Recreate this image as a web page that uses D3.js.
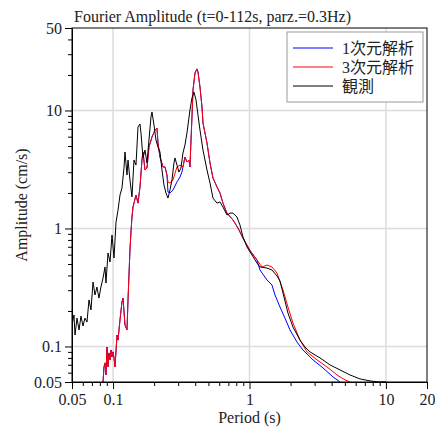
<!DOCTYPE html>
<html>
<head>
<meta charset="utf-8">
<script src="https://cdn.jsdelivr.net/npm/d3@7"></script>
<style>
  body { margin: 0; background: #fff; }
  svg text { font-family: "Liberation Serif", "Times New Roman", "Noto Sans CJK JP", serif; fill: #222; }
</style>
</head>
<body>
<div id="chart"></div>
<script>
// observed (観測)
const periodObs = [0.0500,0.0517,0.0526,0.0544,0.0563,0.0582,0.0602,0.0622,0.0644,0.0666,
  0.0689,0.0713,0.0737,0.0762,0.0788,0.0815,0.0844,0.0873,0.0887,0.0918,
  0.0950,0.0982,0.1016,0.1051,0.1087,0.1124,0.1162,0.1202,0.1223,0.1265,
  0.1287,0.1330,0.1376,0.1423,0.1472,0.1523,0.1575,0.1602,0.1657,0.1714,
  0.1772,0.1833,0.1896,0.1929,0.1995,0.2063,0.2134,0.2207,0.2283,0.2361,
  0.2442,0.2526,0.2613,0.2703,0.2795,0.2843,0.2940,0.3041,0.3145,0.3253,
  0.3365,0.3480,0.3662,0.3788,0.3918,0.4053,0.4192,0.4336,0.4561,0.4880,
  0.5133,0.5399,0.5776,0.6075,0.6391,0.6838,0.7193,0.7566,0.8095,0.8515,
  0.8956,0.9583,1.043,1.134,1.193,1.343,1.461,1.590,1.673,1.760,
  1.914,2.083,2.344,2.550,2.775,3.285,3.889,4.604,5.450,6.452,
  7.638,8.741,10.0];
const ampObs = [0.152,0.185,0.125,0.174,0.138,0.181,0.149,0.174,0.161,0.248,
  0.204,0.352,0.273,0.319,0.257,0.319,0.380,0.472,0.345,0.620,
  0.520,0.880,0.562,1.13,1.43,1.92,2.20,3.25,4.45,2.84,
  3.80,2.58,1.85,3.80,3.45,7.24,7.68,6.44,3.96,4.62,
  3.59,5.62,8.81,9.70,7.53,5.62,4.90,4.45,3.13,2.34,
  2.00,1.81,2.12,2.58,3.59,3.96,3.45,3.01,3.25,4.36,
  5.10,6.44,10.1,12.8,14.3,12.3,9.15,6.83,4.62,3.13,
  2.43,1.81,1.64,1.68,1.52,1.30,1.35,1.35,1.25,1.07,
  0.847,0.697,0.596,0.510,0.472,0.462,0.445,0.396,0.359,0.284,
  0.192,0.146,0.1134,0.0990,0.0900,0.0800,0.0698,0.0633,0.0574,0.0531,
  0.0511,0.0501,0.0501];

// 3D analysis (3次元解析)
const period3d = [0.0844,0.0858,0.0873,0.0887,0.0903,0.0918,0.0933,0.0950,0.0966,0.0982,
  0.0999,0.1016,0.1033,0.1069,0.1087,0.1124,0.1162,0.1183,0.1223,0.1265,
  0.1287,0.1308,0.1330,0.1353,0.1376,0.1400,0.1472,0.1523,0.1575,0.1629,
  0.1657,0.1714,0.1772,0.1833,0.1929,0.2030,0.2099,0.2134,0.2207,0.2322,
  0.2402,0.2484,0.2526,0.2613,0.2749,0.2940,0.3094,0.3253,0.3365,0.3480,
  0.3601,0.3662,0.3726,0.3788,0.3853,0.3985,0.4122,0.4192,0.4336,0.4485,
  0.4561,0.4880,0.5133,0.5399,0.5776,0.6075,0.6391,0.6838,0.7566,0.8233,
  0.8956,1.003,1.134,1.235,1.343,1.461,1.590,1.760,1.914,2.083,
  2.344,2.638,3.123,3.698,4.377,5.010,5.450];
const amp3d = [0.050,0.0671,0.0726,0.0574,0.099,0.0671,0.0882,0.077,0.0933,0.0816,
  0.090,0.080,0.0671,0.125,0.1134,0.168,0.238,0.257,0.152,0.138,
  0.248,0.403,0.657,0.933,1.25,1.52,1.92,1.64,2.25,3.80,
  4.45,3.13,3.25,4.90,5.96,6.83,7.10,5.30,4.03,3.32,
  3.32,2.84,2.48,2.43,2.58,3.32,3.45,3.32,4.03,3.66,
  3.80,3.32,5.62,8.81,14.9,20.8,22.5,21.2,15.8,10.7,
  7.83,5.30,3.59,2.68,2.25,2.00,1.64,1.35,1.18,1.01,
  0.830,0.657,0.541,0.472,0.490,0.472,0.419,0.301,0.216,0.158,
  0.1134,0.090,0.077,0.0671,0.0574,0.0521,0.0501];

// 1D analysis (1次元解析)
const period1d = [0.0844,0.0858,0.0873,0.0887,0.0903,0.0918,0.0933,0.0950,0.0966,0.0982,
  0.0999,0.1016,0.1033,0.1069,0.1087,0.1124,0.1162,0.1183,0.1223,0.1265,
  0.1287,0.1308,0.1330,0.1353,0.1376,0.1400,0.1472,0.1523,0.1575,0.1629,
  0.1657,0.1714,0.1772,0.1833,0.1929,0.2030,0.2099,0.2134,0.2207,0.2322,
  0.2402,0.2484,0.2526,0.2613,0.2749,0.2940,0.3094,0.3200,0.3365,0.3480,
  0.3601,0.3662,0.3726,0.3788,0.3853,0.3985,0.4122,0.4192,0.4336,0.4485,
  0.4561,0.4880,0.5133,0.5399,0.5776,0.6075,0.6391,0.6838,0.7566,0.8233,
  0.8956,1.003,1.134,1.193,1.343,1.461,1.538,1.673,1.820,1.980,
  2.228,2.466,2.919,3.456,4.092,4.604];
const amp1d = [0.050,0.0671,0.0726,0.0574,0.099,0.0671,0.0882,0.077,0.0933,0.0816,
  0.090,0.080,0.0671,0.125,0.1134,0.168,0.238,0.257,0.152,0.138,
  0.248,0.403,0.657,0.933,1.25,1.52,1.92,1.64,2.25,3.80,
  4.45,3.13,3.25,4.90,5.96,6.83,7.10,5.30,4.03,3.32,
  3.32,2.84,2.04,2.00,2.12,2.48,2.73,3.01,4.03,3.66,
  3.80,3.32,5.62,8.81,14.9,20.8,22.5,21.2,15.8,10.7,
  7.83,5.30,3.59,2.68,2.25,2.00,1.64,1.35,1.18,1.01,
  0.830,0.657,0.541,0.445,0.366,0.332,0.273,0.216,0.174,0.138,
  0.1091,0.0933,0.077,0.0658,0.0552,0.0501];

const seriesNames = ["1次元解析", "3次元解析", "観測"];
const seriesColors = ["#0000ff", "#ff0000", "#000000"];
const xMajor = [0.05, 0.1, 1, 10, 20];
const yMajor = [0.05, 0.1, 1, 10, 50];
const gridValues = [0.1, 1, 10];

const width = 435, height = 428;
const margin = {left: 72, right: 8, top: 28, bottom: 46};

const svg = d3.select("#chart").append("svg")
  .attr("width", width)
  .attr("height", height);

const x = d3.scaleLog().domain([0.05, 20]).range([margin.left, width - margin.right]);
const y = d3.scaleLog().domain([0.05, 50]).range([height - margin.bottom, margin.top]);

// minor tick values 2..9 per decade
const minorX = [];
[0.01, 0.1, 1].forEach(d => { for (let k = 2; k <= 9; k++) { const v = +(d * k).toPrecision(3); if (v > 0.05 && v < 10) minorX.push(v); } });
const minorY = [];
[0.01, 0.1, 1, 10].forEach(d => { for (let k = 2; k <= 9; k++) { const v = +(d * k).toPrecision(3); if (v > 0.05 && v < 50) minorY.push(v); } });

// grid
const grid = svg.append("g").attr("stroke", "#dcdcdc").attr("stroke-width", 1.5);
gridValues.forEach(v => {
  grid.append("line").attr("x1", x(v)).attr("x2", x(v)).attr("y1", y(50)).attr("y2", y(0.05));
  grid.append("line").attr("x1", x(0.05)).attr("x2", x(20)).attr("y1", y(v)).attr("y2", y(v));
});

// clip
svg.append("clipPath").attr("id", "plot-clip")
  .append("rect")
  .attr("x", x(0.05)).attr("y", y(50))
  .attr("width", x(20) - x(0.05)).attr("height", y(0.05) - y(50));

const line = d3.line().x(d => x(d[0])).y(d => y(d[1]));
const lines = [
  d3.zip(period1d, amp1d),
  d3.zip(period3d, amp3d),
  d3.zip(periodObs, ampObs)
];
svg.append("g").attr("clip-path", "url(#plot-clip)")
  .selectAll("path")
  .data(lines)
  .enter().append("path")
  .attr("d", line)
  .attr("fill", "none")
  .attr("stroke", (d, i) => seriesColors[i])
  .attr("stroke-width", 1);

// axes
const bottom = height - margin.bottom;
svg.append("g")
  .attr("transform", "translate(0," + bottom + ")")
  .call(d3.axisBottom(x).tickValues(xMajor).tickFormat(d => d).tickSize(7).tickPadding(5).tickSizeOuter(0))
  .call(g => g.selectAll("text").attr("font-size", 16).attr("font-family", null));
svg.append("g")
  .attr("transform", "translate(0," + bottom + ")")
  .call(d3.axisBottom(x).tickValues(minorX).tickFormat("").tickSize(4).tickSizeOuter(0))
  .call(g => g.select(".domain").remove());
svg.append("g")
  .attr("transform", "translate(" + margin.left + ",0)")
  .call(d3.axisLeft(y).tickValues(yMajor).tickFormat(d => d).tickSize(7).tickPadding(3).tickSizeOuter(0))
  .call(g => g.selectAll("text").attr("font-size", 16).attr("font-family", null));
svg.append("g")
  .attr("transform", "translate(" + margin.left + ",0)")
  .call(d3.axisLeft(y).tickValues(minorY).tickFormat("").tickSize(4).tickSizeOuter(0))
  .call(g => g.select(".domain").remove());

// frame
svg.append("rect")
  .attr("x", x(0.05)).attr("y", y(50))
  .attr("width", x(20) - x(0.05)).attr("height", y(0.05) - y(50))
  .attr("fill", "none").attr("stroke", "#000").attr("stroke-width", 1);

// title and labels
svg.append("text")
  .attr("x", 74).attr("y", 22)
  .attr("font-size", 16)
  .text("Fourier Amplitude (t=0-112s, parz.=0.3Hz)");
svg.append("text")
  .attr("x", x(1)).attr("y", 423)
  .attr("text-anchor", "middle")
  .attr("font-size", 16)
  .text("Period (s)");
svg.append("text")
  .attr("transform", "translate(27," + (y(50) + y(0.05)) / 2 + ") rotate(-90)")
  .attr("text-anchor", "middle")
  .attr("font-size", 16)
  .text("Amplitude (cm/s)");

// legend
const legend = svg.append("g").attr("transform", "translate(287,32)");
legend.append("rect")
  .attr("width", 136).attr("height", 70)
  .attr("fill", "#fff").attr("stroke", "#999").attr("stroke-width", 1);
seriesNames.forEach((name, i) => {
  const ly = 16 + i * 19;
  legend.append("line")
    .attr("x1", 6).attr("x2", 46).attr("y1", ly).attr("y2", ly)
    .attr("stroke", seriesColors[i]).attr("stroke-width", 1);
  legend.append("text")
    .attr("x", 55).attr("y", ly + 6)
    .attr("font-size", 16)
    .text(name);
});
</script>
</body>
</html>
